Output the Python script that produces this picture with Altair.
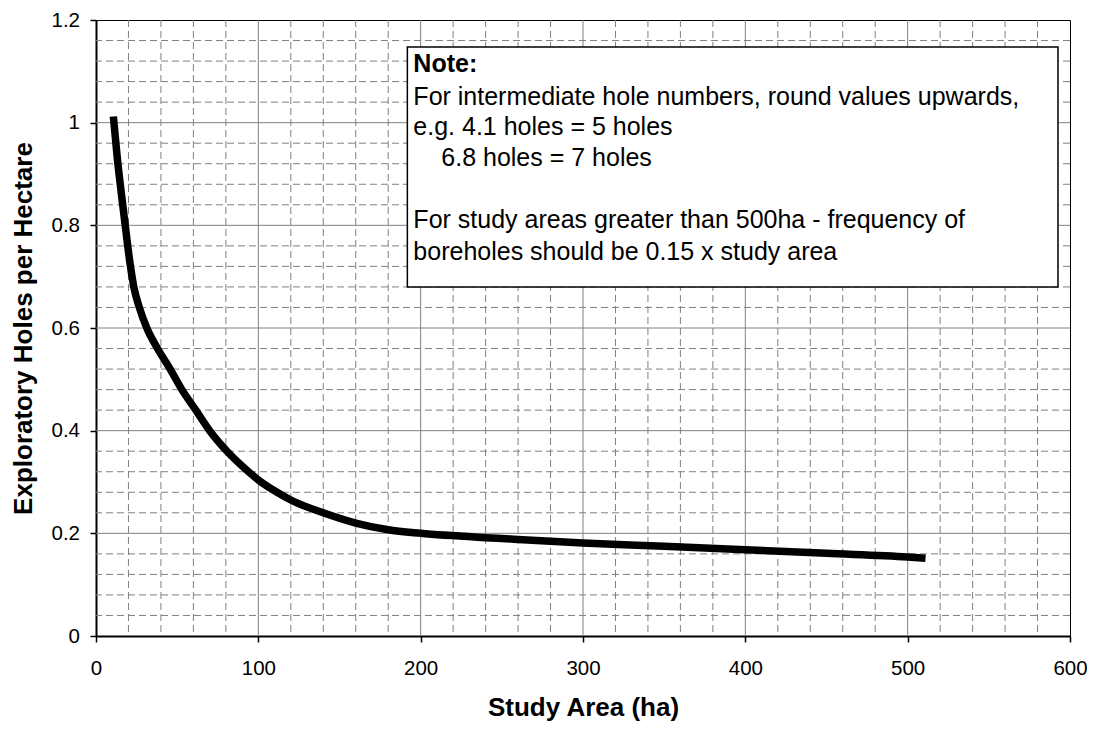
import altair as alt
import pandas as pd

# Curve readings (study area ha -> exploratory holes per hectare)
area = [10.7, 13.0, 15.5, 18.0, 21.0, 23.3, 26.7, 31.3, 37.9, 45.7, 52.9,
        61.5, 70.0, 80.7, 94.0, 100.0, 111.5, 120.0, 140.0, 160.0, 180.0, 200.0, 250.0,
        300.0, 350.0, 400.0, 450.0, 500.0, 511.0]
holes = [1.012, 0.935, 0.865, 0.80, 0.725, 0.68, 0.64, 0.60, 0.56, 0.52, 0.48,
         0.44, 0.40, 0.36, 0.32, 0.304, 0.28, 0.265, 0.24, 0.22, 0.207, 0.20, 0.19,
         0.181, 0.175, 0.168, 0.161, 0.154, 0.1515]

x_ticks = [0, 100, 200, 300, 400, 500, 600]
y_ticks = [0, 0.2, 0.4, 0.6, 0.8, 1.0, 1.2]
x_major = [100, 200, 300, 400, 500]
x_minor = [20, 40, 60, 80, 120, 140, 160, 180, 220, 240, 260, 280, 320, 340, 360, 380,
           420, 440, 460, 480, 520, 540, 560, 580]
y_major = [0.2, 0.4, 0.6, 0.8, 1.0]
y_minor = [0.04, 0.08, 0.12, 0.16, 0.24, 0.28, 0.32, 0.36, 0.44, 0.48, 0.52, 0.56,
           0.64, 0.68, 0.72, 0.76, 0.84, 0.88, 0.92, 0.96, 1.04, 1.08, 1.12, 1.16]

note_head = ["Note:"]
note_head_x = [195.5]
note_head_y = [1.115]
note_lines = ["For intermediate hole numbers, round values upwards,",
              "e.g. 4.1 holes = 5 holes",
              "6.8 holes = 7 holes",
              "For study areas greater than 500ha - frequency of",
              "boreholes should be 0.15 x study area"]
note_x = [195.5, 195.5, 212.7, 195.5, 195.5]
note_y = [1.050, 0.991, 0.932, 0.810, 0.749]
box_x = [191.8]
box_x2 = [592.6]
box_y = [0.680]
box_y2 = [1.1475]

FONT = "Liberation Sans"
xs = alt.Scale(domain=[0, 600], nice=False, zero=True)
ys = alt.Scale(domain=[0, 1.2], nice=False, zero=True)

xaxis = alt.Axis(
    values=x_ticks, format="d", grid=False, title="Study Area (ha)",
    domainColor="black", domainWidth=2, tickColor="black", tickSize=6, tickWidth=1.5,
    labelFont=FONT, labelFontSize=20.5, labelColor="black", labelPadding=16,
    labelFlush=False,
    titleFont=FONT, titleFontSize=26, titleFontWeight="bold", titleColor="black",
    titleY=79, titleBaseline="alphabetic")
yaxis = alt.Axis(
    values=y_ticks, format="~g", grid=False, title="Exploratory Holes per Hectare",
    domainColor="black", domainWidth=2, tickColor="black", tickSize=6, tickWidth=1.5,
    labelFont=FONT, labelFontSize=20.5, labelColor="black", labelPadding=10.5,
    labelFlush=False,
    titleFont=FONT, titleFontSize=26, titleFontWeight="bold", titleColor="black",
    titleX=-73, titleY=308, titleAngle=270, titleAlign="center",
    titleBaseline="middle")


def X(f):
    return alt.X(f, scale=xs, axis=xaxis)


def Y(f):
    return alt.Y(f, scale=ys, axis=yaxis)


curve_df = pd.DataFrame({"area": area, "holes": holes})
grid_color = "#808080"

minor_x = alt.Chart(pd.DataFrame({"v": x_minor})).mark_rule(
    color=grid_color, strokeWidth=1, strokeDash=[7, 4]
).encode(x=X("v:Q"))
minor_y = alt.Chart(pd.DataFrame({"v": y_minor})).mark_rule(
    color=grid_color, strokeWidth=1, strokeDash=[7, 4]
).encode(y=Y("v:Q"))
major_x = alt.Chart(pd.DataFrame({"v": x_major})).mark_rule(
    color=grid_color, strokeWidth=1
).encode(x=X("v:Q"))
major_y = alt.Chart(pd.DataFrame({"v": y_major})).mark_rule(
    color=grid_color, strokeWidth=1
).encode(y=Y("v:Q"))

curve = alt.Chart(curve_df).mark_line(
    color="black", strokeWidth=7.5, interpolate="monotone", strokeCap="butt"
).encode(x=X("area:Q"), y=Y("holes:Q"))

box = alt.Chart(pd.DataFrame({"x": box_x, "x2": box_x2, "y": box_y, "y2": box_y2})).mark_rect(
    fill="white", stroke="black", strokeWidth=1.5
).encode(x=X("x:Q"), x2="x2:Q", y=Y("y:Q"), y2="y2:Q")

head = alt.Chart(pd.DataFrame({"t": note_head, "x": note_head_x, "y": note_head_y})).mark_text(
    align="left", baseline="middle", font=FONT, fontSize=25, fontWeight="bold", color="black"
).encode(x=X("x:Q"), y=Y("y:Q"), text="t:N")

body = alt.Chart(pd.DataFrame({"t": note_lines, "x": note_x, "y": note_y})).mark_text(
    align="left", baseline="middle", font=FONT, fontSize=25, color="black"
).encode(x=X("x:Q"), y=Y("y:Q"), text="t:N")

chart = alt.layer(minor_x, minor_y, major_x, major_y, curve, box, head, body).properties(
    width=974, height=616,
    autosize=alt.AutoSizeParams(type="none"),
    padding={"left": 88, "top": 12, "right": 17, "bottom": 85},
    background="white",
).configure_view(stroke="black", strokeWidth=1)

chart.save("out.html", embed_options={"renderer": "svg", "actions": False})
